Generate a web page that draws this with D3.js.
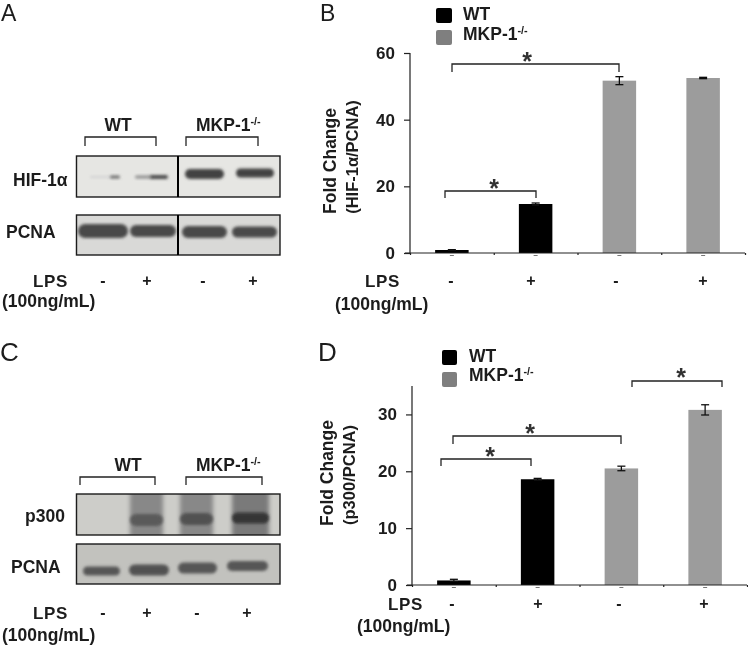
<!DOCTYPE html>
<html>
<head>
<meta charset="utf-8">
<script src="https://cdn.jsdelivr.net/npm/d3@7"></script>
<style>
    html, body { margin: 0; padding: 0; background: #fff; }
    svg { display: block; }
    text { font-family: "Liberation Sans", Arial, sans-serif; fill: #1c1c1c; }
</style>
</head>
<body>
<script>
// chart values
const conditions = ['WT -', 'WT +', 'KO -', 'KO +'];
const lps_signs = ['-', '+', '-', '+'];
const group_colors = ['#000000', '#000000', '#9c9c9c', '#9c9c9c'];

const hif_values = [0.9, 14.7, 51.7, 52.5];
const hif_errors = [0.1, 0.3, 1.2, 0.2];
const hif_ticks = [0, 20, 40, 60];

const p300_values = [0.8, 18.6, 20.5, 30.8];
const p300_errors = [0.2, 0.15, 0.4, 0.9];
const p300_ticks = [0, 10, 20, 30];

// band darkness on the blots, 0 = nothing, 1 = black
const blot_hif = [0.2, 0.65, 0.5, 0.78, 0.82, 0.82];
const blot_pcna_a = [0.8, 0.8, 0.8, 0.8];
const blot_p300 = [0.72, 0.76, 0.88];
const blot_p300_smear = [0.52, 0.52, 0.58];
const blot_pcna_c = [0.74, 0.76, 0.74, 0.74];

const text_size = 17.5;

const svg = d3.select('body')
    .append('svg')
    .attr('width', 748)
    .attr('height', 645);

const defs = svg.append('defs');
defs.append('filter').attr('id', 'soft')
    .append('feGaussianBlur').attr('stdDeviation', 0.35);
defs.append('filter').attr('id', 'band').attr('x', '-30%').attr('y', '-80%').attr('width', '160%').attr('height', '260%')
    .append('feGaussianBlur').attr('stdDeviation', 1.5);
defs.append('filter').attr('id', 'smear').attr('x', '-30%').attr('y', '-30%').attr('width', '160%').attr('height', '160%')
    .append('feGaussianBlur').attr('stdDeviation', 2.2);

const root = svg.append('g').attr('filter', 'url(#soft)');
const darkness = d3.scaleLinear().domain([0, 1]).range(['#ffffff', '#1a1a1a']);

function label(x, y, str, size, opts) {
    opts = opts || {};
    return root.append('text')
        .attr('x', x)
        .attr('y', y)
        .attr('font-size', size)
        .attr('font-weight', opts.weight || 'bold')
        .attr('text-anchor', opts.anchor || 'start')
        .text(str);
}

// MKP-1 with the small -/- raised after it
function mkp_label(x, y, size) {
    const t = label(x, y, 'MKP-1', size);
    t.append('tspan')
        .attr('font-size', size * 0.62)
        .attr('dy', -size * 0.36)
        .text('-/-');
}

function rotated_label(x, y, str, size) {
    root.append('text')
        .attr('transform', 'translate(' + x + ',' + y + ') rotate(-90)')
        .attr('font-size', size)
        .attr('font-weight', 'bold')
        .attr('text-anchor', 'middle')
        .text(str);
}

function bracket(x0, x1, top, bottom, color) {
    root.append('path')
        .attr('d', d3.line()([[x0, bottom], [x0, top], [x1, top], [x1, bottom]]))
        .attr('fill', 'none')
        .attr('stroke', color || '#222')
        .attr('stroke-width', 1.3);
}

function star(x, y) {
    label(x, y, '*', 25, {anchor: 'middle'}).style('fill', '#333');
}

function lps_block(lps_x, base, extra_x, extra_base, sign_xs, sign_y) {
    label(lps_x, base, 'LPS', 17).attr('letter-spacing', 0.6);
    label(extra_x, extra_base, '(100ng/mL)', text_size);
    root.selectAll(null)
        .data(lps_signs.map((s, i) => ({s: s, x: sign_xs[i]})))
        .enter().append('text')
        .attr('x', d => d.x)
        .attr('y', sign_y)
        .attr('font-size', 16)
        .attr('font-weight', 'bold')
        .attr('text-anchor', 'middle')
        .text(d => d.s);
}

let clip_id = 0;

function blot(x0, x1, y0, y1, bg, bands, divider) {
    clip_id += 1;
    defs.append('clipPath').attr('id', 'clip' + clip_id)
        .append('rect')
        .attr('x', x0).attr('y', y0)
        .attr('width', x1 - x0).attr('height', y1 - y0);
    const g = root.append('g').attr('clip-path', 'url(#clip' + clip_id + ')');
    g.append('rect')
        .attr('x', x0).attr('y', y0)
        .attr('width', x1 - x0).attr('height', y1 - y0)
        .attr('fill', bg);
    g.selectAll('rect.band')
        .data(bands)
        .enter().append('rect')
        .attr('class', 'band')
        .attr('x', d => d.x0)
        .attr('y', d => d.y - d.h / 2)
        .attr('width', d => d.x1 - d.x0)
        .attr('height', d => d.h)
        .attr('rx', d => d.smear ? 1 : d.h / 2)
        .attr('fill', d => darkness(d.v))
        .attr('filter', d => d.smear ? 'url(#smear)' : 'url(#band)');
    root.append('rect')
        .attr('x', x0).attr('y', y0)
        .attr('width', x1 - x0).attr('height', y1 - y0)
        .attr('fill', 'none')
        .attr('stroke', '#1a1a1a')
        .attr('stroke-width', 1.4);
    if (divider) {
        root.append('line')
            .attr('x1', divider).attr('x2', divider)
            .attr('y1', y0).attr('y2', y1)
            .attr('stroke', '#000')
            .attr('stroke-width', 2);
    }
}

function with_values(values, boxes) {
    return boxes.map((b, i) => ({x0: b[0], x1: b[1], y: b[2], h: b[3], v: values[i], smear: b[4]}));
}

function bar_panel(p) {
    const x = d3.scaleBand()
        .domain(conditions)
        .range([p.left, p.right])
        .paddingInner(0.6)
        .paddingOuter(0.3);
    const y = d3.scaleLinear()
        .domain([0, p.max])
        .range([p.bottom, p.top]);

    const g = root.append('g');

    g.selectAll('rect.bar')
        .data(p.values)
        .enter().append('rect')
        .attr('class', 'bar')
        .attr('x', (d, i) => x(conditions[i]))
        .attr('y', d => y(d))
        .attr('width', x.bandwidth())
        .attr('height', d => y(0) - y(d))
        .attr('fill', (d, i) => group_colors[i]);

    const errs = g.selectAll('g.err')
        .data(p.values.map((v, i) => ({v: v, e: p.errors[i], c: conditions[i]})))
        .enter().append('g')
        .attr('class', 'err')
        .attr('stroke', '#111')
        .attr('stroke-width', 1.3);
    errs.append('line')
        .attr('x1', d => x(d.c) + x.bandwidth() / 2)
        .attr('x2', d => x(d.c) + x.bandwidth() / 2)
        .attr('y1', d => y(d.v - d.e))
        .attr('y2', d => y(d.v + d.e));
    errs.append('line')
        .attr('x1', d => x(d.c) + x.bandwidth() / 2 - 4)
        .attr('x2', d => x(d.c) + x.bandwidth() / 2 + 4)
        .attr('y1', d => y(d.v + d.e))
        .attr('y2', d => y(d.v + d.e));
    errs.append('line')
        .attr('x1', d => x(d.c) + x.bandwidth() / 2 - 4)
        .attr('x2', d => x(d.c) + x.bandwidth() / 2 + 4)
        .attr('y1', d => y(d.v - d.e))
        .attr('y2', d => y(d.v - d.e));

    const y_axis = g.append('g')
        .attr('transform', 'translate(' + p.left + ',0)')
        .call(d3.axisLeft(y).tickValues(p.ticks).tickSize(6).tickPadding(9));
    y_axis.selectAll('text')
        .attr('font-size', 17)
        .attr('font-weight', 'bold')
        .attr('font-family', '"Liberation Sans", Arial, sans-serif');
    y_axis.selectAll('line, path').attr('stroke', '#222').attr('stroke-width', 1.2);
    y_axis.select('.domain').attr('d', 'M0,' + y(p.max) + 'V' + y(0));

    // x axis with the ticks sitting between the bars
    const x_edges = d3.scaleLinear().domain([0, 4]).range([p.left, p.right]);
    const x_axis = g.append('g')
        .attr('transform', 'translate(0,' + p.bottom + ')')
        .call(d3.axisBottom(x_edges).ticks(4).tickSize(2).tickFormat(''));
    x_axis.selectAll('line, path').attr('stroke', '#222').attr('stroke-width', 1.2);
    x_axis.select('.domain').attr('d', 'M' + (p.left - 5) + ',0H' + p.right);

    // little grey dash under each bar
    g.selectAll('line.dash')
        .data(conditions)
        .enter().append('line')
        .attr('class', 'dash')
        .attr('x1', d => x(d) + x.bandwidth() / 2 - 2)
        .attr('x2', d => x(d) + x.bandwidth() / 2 + 2)
        .attr('y1', p.bottom + 2.5)
        .attr('y2', p.bottom + 2.5)
        .attr('stroke', '#777')
        .attr('stroke-width', 1);
}

// panel letters
label(1, 21, 'A', 23, {weight: 'normal'});
label(320, 21, 'B', 23, {weight: 'normal'});
label(0, 361, 'C', 26, {weight: 'normal'});
label(318, 361, 'D', 26, {weight: 'normal'});

// panel A
label(118, 131, 'WT', text_size, {anchor: 'middle'});
mkp_label(196, 131, text_size);
bracket(85, 156, 137, 146);
bracket(186, 258, 137, 146);
label(13, 186, 'HIF-1\u03b1', text_size);
label(6, 238, 'PCNA', text_size);

blot(76.5, 280, 156, 197, '#e6e6e3', with_values(blot_hif, [
    [90, 112, 177, 2],
    [110, 120, 177, 3],
    [135, 152, 177, 3],
    [150, 168, 177, 4],
    [185, 224, 174, 10],
    [236, 274, 173, 9]
]), 178);
blot(76.5, 280, 215, 255, '#d9d9d7', with_values(blot_pcna_a, [
    [78, 128, 231, 14],
    [130, 176, 231, 12],
    [182, 227, 232, 12],
    [232, 277, 232, 11]
]), 178);
lps_block(33, 287, 2, 307, [103, 147, 203, 253], 286);

// panel B
root.append('rect').attr('x', 436).attr('y', 8).attr('width', 16).attr('height', 15).attr('rx', 2).attr('fill', '#000');
root.append('rect').attr('x', 436).attr('y', 30).attr('width', 16).attr('height', 15).attr('rx', 2).attr('fill', '#7f7f7f');
label(463, 20, 'WT', text_size);
mkp_label(463, 40, text_size);

bar_panel({
    values: hif_values, errors: hif_errors, ticks: hif_ticks, max: 60,
    left: 410, right: 745, top: 53, bottom: 253
});

bracket(452, 619, 64, 72);
star(527, 70);
bracket(445, 536, 191, 198);
star(494, 197);

rotated_label(336, 161, 'Fold Change', 17.5);
rotated_label(358, 157, '(HIF-1\u03b1/PCNA)', 16.5);
lps_block(365, 287, 335, 310, [451, 531, 616, 703], 286);

// panel C
label(128, 471, 'WT', text_size, {anchor: 'middle'});
mkp_label(196, 471, text_size);
bracket(80, 155, 477, 485);
bracket(186, 262, 477, 485);
label(25, 522, 'p300', text_size);
label(11, 573, 'PCNA', text_size);

blot(76.5, 280, 494, 535, '#cdcdc9', with_values(blot_p300_smear, [
    [130, 163, 514, 50, true],
    [180, 213, 514, 50, true],
    [232, 269, 514, 50, true]
]).concat(with_values(blot_p300, [
    [130, 163, 520, 12],
    [180, 213, 519, 12],
    [232, 269, 518, 11]
])));
blot(76.5, 280, 544, 584, '#c2c2be', with_values(blot_pcna_c, [
    [83, 120, 571, 9],
    [129, 169, 570, 11],
    [178, 217, 568, 11],
    [227, 268, 566, 10]
]));
lps_block(33, 619, 2, 641, [103, 147, 197, 247], 618);

// panel D
root.append('rect').attr('x', 442).attr('y', 350).attr('width', 15).attr('height', 15).attr('rx', 2).attr('fill', '#000');
root.append('rect').attr('x', 442).attr('y', 372).attr('width', 15).attr('height', 15).attr('rx', 2).attr('fill', '#7f7f7f');
label(469, 361.5, 'WT', text_size);
mkp_label(469, 381, text_size);

bar_panel({
    values: p300_values, errors: p300_errors, ticks: p300_ticks, max: 35,
    left: 412, right: 747, top: 386, bottom: 585
});

bracket(632, 722, 381, 387);
star(681, 386);
bracket(453, 621, 436, 444);
star(530, 442);
bracket(441, 531, 459, 466);
star(490, 465);

rotated_label(333, 473, 'Fold Change', 17.5);
rotated_label(355, 475, '(p300/PCNA)', 16.5);
lps_block(388, 610, 357, 632, [452, 538, 619, 704], 609);
</script>
</body>
</html>
